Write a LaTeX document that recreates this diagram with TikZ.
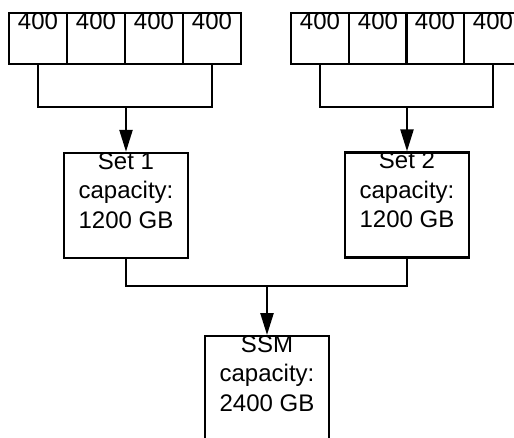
\documentclass[tikz,border=0pt]{standalone}
\usepackage{fontspec}
\setmainfont{Liberation Sans}
\usetikzlibrary{arrows.meta}
\tikzset{
  disk/.style={draw, line width=2.4pt, inner sep=0pt, minimum width=58pt, text height=16pt, text depth=35pt, font=\fontsize{24}{28}\selectfont},
  setbox/.style={draw, line width=2.4pt, inner sep=0pt, minimum width=124pt, minimum height=105pt},
  boxtext/.style={inner sep=0pt, anchor=north, align=center, font=\fontsize{24}{29.5}\selectfont},
  conn/.style={line width=2.4pt},
  arr/.style={line width=2.4pt, -{Triangle[width=13pt,length=22pt]}}
}
\begin{document}
\begin{tikzpicture}[x=1pt,y=1pt]
\clip (0,0) rectangle (514,-437);
% left disks
\node[disk] (l1) at (38,-38.5) {400};
\node[disk] (l2) at (96,-38.5) {400};
\node[disk] (l3) at (154,-38.5) {400};
\node[disk] (l4) at (212,-38.5) {400};
% right disks
\node[disk] (r1) at (320,-38.5) {400};
\node[disk] (r2) at (378,-38.5) {400};
\node[disk] (r3) at (435,-38.5) {400};
\node[disk] (r4) at (493,-38.5) {400};
% sets
\node[setbox] (s1) at (126,-205.5) {};
\node[boxtext, name=s1t] at ([yshift=-0.5pt]s1.north) {Set 1\\capacity:\\1200 GB};
\node[setbox] (s2) at (407,-205) {};
\node[boxtext, name=s2t] at ([yshift=-0.5pt]s2.north) {Set 2\\capacity:\\1200 GB};
% ssm
\node[setbox, anchor=north] (ssm) at (267,-335) {};
\node[boxtext, name=ssmt] at ([yshift=-0.5pt]ssm.north) {SSM\\capacity:\\2400 GB};
% connectors
\coordinate (lj) at (126,-107);
\coordinate (rj) at (407,-107);
\coordinate (bj) at (267,-286);
\draw[conn] (l1.south) |- (lj) -| (l4.south);
\draw[arr] (lj) -- (s1.north);
\draw[conn] (r1.south) |- (rj) -| (r4.south);
\draw[arr] (rj) -- (s2.north);
\draw[conn] (s1.south) |- (bj) -| (s2.south);
\draw[arr] (bj) -- (ssm.north);
\end{tikzpicture}
\end{document}
